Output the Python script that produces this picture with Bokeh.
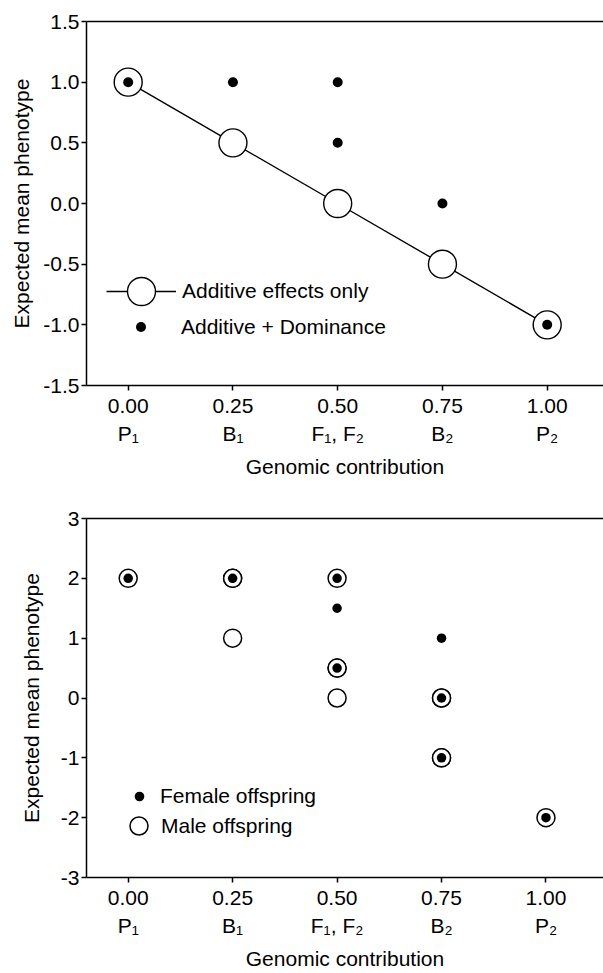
from bokeh.plotting import figure
from bokeh.models import (LinearAxis, FixedTicker, Range1d, Legend, LegendItem,
                          CustomJSTickFormatter)
from bokeh.layouts import column
from bokeh.embed import file_html
from bokeh.resources import INLINE

# ---------------- data ----------------
x_ticks = [0.0, 0.25, 0.5, 0.75, 1.0]
x_tick_labels = ["0.00", "0.25", "0.50", "0.75", "1.00"]
generation_labels = ["P\u2081", "B\u2081", "F\u2081, F\u2082", "B\u2082", "P\u2082"]

additive_x = [0.0, 0.25, 0.5, 0.75, 1.0]
additive_y = [1.0, 0.5, 0.0, -0.5, -1.0]
dominance_x = [0.0, 0.25, 0.5, 0.5, 0.75, 1.0]
dominance_y = [1.0, 1.0, 1.0, 0.5, 0.0, -1.0]
top_y_ticks = [-1.5, -1.0, -0.5, 0.0, 0.5, 1.0, 1.5]
top_y_labels = ["-1.5", "-1.0", "-0.5", "0.0", "0.5", "1.0", "1.5"]

female_x = [0.0, 0.25, 0.5, 0.5, 0.5, 0.75, 0.75, 0.75, 1.0]
female_y = [2, 2, 2, 1.5, 0.5, 1, 0, -1, -2]
male_x = [0.0, 0.25, 0.25, 0.25, 0.5, 0.5, 0.5, 0.5, 0.75, 0.75, 0.75, 0.75, 1.0]
male_y = [2, 2, 2, 1, 2, 0.5, 0.5, 0, 0, 0, -1, -1, -2]
bot_y_ticks = [-3, -2, -1, 0, 1, 2, 3]
bot_y_labels = ["-3", "-2", "-1", "0", "1", "2", "3"]

FONT = "Liberation Sans"
FS = "21px"
AXW = 1.5


def label_fmt(labels):
    return CustomJSTickFormatter(args=dict(labels=labels), code="return labels[index];")


def build(height, xr, yr, yticks, ylabels, border_left, border_top, border_bottom, ylabel_standoff):
    p = figure(width=603, height=height, x_range=Range1d(*xr), y_range=Range1d(*yr),
               output_backend="svg", toolbar_location=None,
               min_border_left=border_left, min_border_right=0,
               min_border_top=border_top, min_border_bottom=border_bottom)
    p.outline_line_color = None
    p.grid.visible = False
    p.background_fill_color = "white"

    # primary x axis (numbers + ticks)
    xa = p.xaxis[0]
    xa.ticker = FixedTicker(ticks=x_ticks, minor_ticks=[])
    xa.formatter = label_fmt(x_tick_labels)
    xa.major_tick_in = 0
    xa.major_tick_out = 5
    xa.major_label_standoff = 8
    xa.axis_line_width = AXW
    xa.major_tick_line_width = AXW
    xa.axis_line_color = "black"
    xa.major_tick_line_color = "black"
    xa.minor_tick_line_color = None
    xa.major_label_text_font = FONT
    xa.major_label_text_font_size = FS
    xa.major_label_text_color = "black"

    # second x axis with generation names
    ga = LinearAxis(ticker=FixedTicker(ticks=x_ticks, minor_ticks=[]),
                    formatter=label_fmt(generation_labels),
                    axis_line_color=None, major_tick_line_color=None,
                    minor_tick_line_color=None, major_tick_in=0, major_tick_out=0,
                    major_label_standoff=6,
                    major_label_text_font=FONT, major_label_text_font_size=FS,
                    major_label_text_color="black",
                    axis_label="Genomic contribution", axis_label_standoff=7,
                    axis_label_text_font=FONT, axis_label_text_font_size=FS,
                    axis_label_text_font_style="normal", axis_label_text_color="black")
    p.add_layout(ga, "below")

    # top line of the frame
    ta = LinearAxis(ticker=FixedTicker(ticks=[], minor_ticks=[]),
                    axis_line_color="black", axis_line_width=AXW,
                    major_tick_line_color=None, minor_tick_line_color=None,
                    major_label_text_font_size="0px")
    p.add_layout(ta, "above")

    ya = p.yaxis[0]
    ya.ticker = FixedTicker(ticks=yticks, minor_ticks=[])
    ya.formatter = label_fmt(ylabels)
    ya.major_tick_in = 0
    ya.major_tick_out = 5
    ya.major_label_standoff = 2
    ya.axis_line_width = AXW
    ya.major_tick_line_width = AXW
    ya.axis_line_color = "black"
    ya.major_tick_line_color = "black"
    ya.minor_tick_line_color = None
    ya.major_label_text_font = FONT
    ya.major_label_text_font_size = FS
    ya.major_label_text_color = "black"
    ya.axis_label = "Expected mean phenotype"
    ya.axis_label_standoff = ylabel_standoff
    ya.axis_label_text_font = FONT
    ya.axis_label_text_font_size = FS
    ya.axis_label_text_font_style = "normal"
    ya.axis_label_text_color = "black"
    return p


def make_legend(item, loc, g, standoff):
    return Legend(items=[item], location=loc, glyph_width=g, glyph_height=g,
                  label_standoff=standoff, padding=0, margin=0, spacing=0,
                  border_line_color=None, background_fill_alpha=0,
                  label_text_font=FONT, label_text_font_size=FS,
                  label_text_color="black")


# ---------------- top panel ----------------
p1 = build(500, (-0.0995, 1.1344), (-1.5, 1.5), top_y_ticks, top_y_labels,
           86, 21, 115, 7)
line_r = p1.line(additive_x, additive_y, line_color="black", line_width=1.4)
circ_r = p1.scatter(additive_x, additive_y, size=28, fill_color="white",
                    line_color="black", line_width=1.4)
dom_r = p1.scatter(dominance_x, dominance_y, size=10, fill_color="black",
                   line_color="black", line_width=0)
p1.add_layout(make_legend(LegendItem(label="Additive effects only", renderers=[line_r, circ_r]),
                          (20, 59), 70, 6))
p1.add_layout(make_legend(LegendItem(label="Additive + Dominance", renderers=[dom_r]),
                          (42, 46), 25, 28))

# ---------------- bottom panel ----------------
p2 = build(472, (-0.0998, 1.1377), (-3, 3), bot_y_ticks, bot_y_labels,
           82, 18, 91, 15)
male_r = p2.scatter(male_x, male_y, size=18, fill_color="white",
                    line_color="black", line_width=1.5)
fem_r = p2.scatter(female_x, female_y, size=9.5, fill_color="black",
                   line_color="black", line_width=0)
p2.add_layout(make_legend(LegendItem(label="Female offspring", renderers=[fem_r]),
                          (41, 69), 24, 9))
p2.add_layout(make_legend(LegendItem(label="Male offspring", renderers=[male_r]),
                          (30, 29), 45, -2))

layout = column(p1, p2, spacing=0)
open("out.html", "w").write(file_html(layout, INLINE))
